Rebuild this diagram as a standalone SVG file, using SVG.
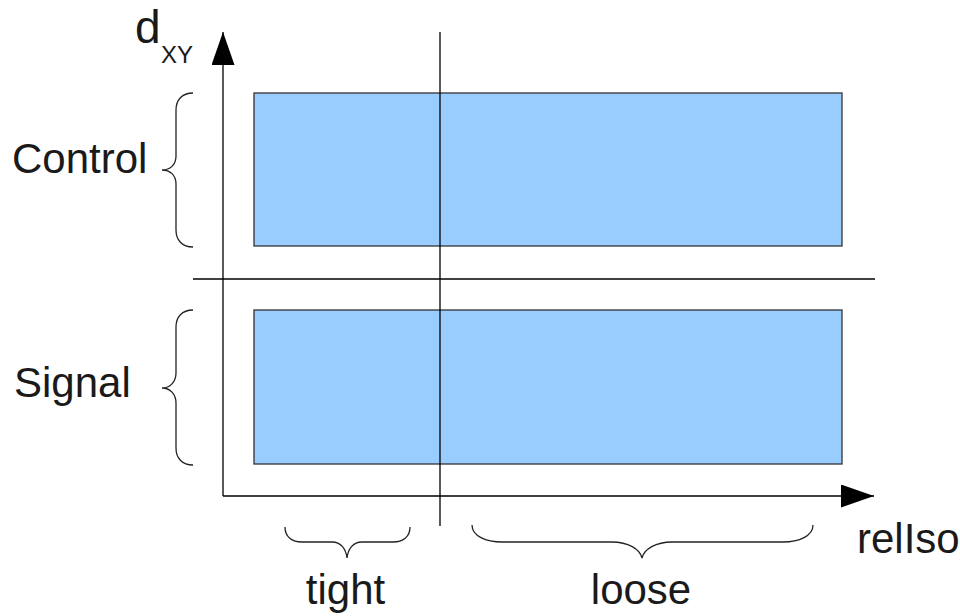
<svg xmlns="http://www.w3.org/2000/svg" width="960" height="616" viewBox="0 0 960 616">
<style>
text{font-family:"Liberation Sans",Arial,sans-serif;fill:#1a1a1a}
.lbl{font-size:42px}
.box{fill:#99ccff;stroke:#333;stroke-width:1.3}
.ln{stroke:#000;stroke-width:1.3;fill:none}
.br{stroke:#222;stroke-width:1.3;fill:none}
</style>
<defs>
<marker id="ah" markerWidth="34" markerHeight="24" refX="33" refY="11.5" orient="auto" markerUnits="userSpaceOnUse">
<path d="M0,0 L33,11.5 L0,23 Z" fill="#000"/>
</marker>
</defs>
<rect width="960" height="616" fill="#fff"/>
<g id="box-control"><rect class="box" x="254" y="93" width="588" height="153"/></g>
<g id="box-signal"><rect class="box" x="254" y="310" width="588" height="154"/></g>
<g id="connectors">
<line class="ln" x1="223" y1="496" x2="223" y2="32" marker-end="url(#ah)"/>
<line class="ln" x1="223" y1="496" x2="874" y2="496" marker-end="url(#ah)"/>
<line class="ln" x1="440" y1="32" x2="440" y2="526"/>
<line class="ln" x1="193" y1="279" x2="875" y2="279"/>
</g>
<g id="brace-control"><path class="br" d="M193,93 C182,93 176,100 176,110 L176,156 C176,165 170,170 162,170 C170,170 176,175 176,184 L176,230 C176,240 182,247 193,247"/></g>
<g id="brace-signal"><path class="br" d="M193,310 C182,310 176,317 176,327 L176,373 C176,382 170,388 162,388 C170,388 176,394 176,403 L176,448 C176,458 182,465 193,465"/></g>
<g id="brace-tight"><path class="br" d="M285,527 C285,537 292,542 302,542 L332,542 C341,542 346,549 347,558 C348,549 353,542 362,542 L393,542 C403,542 410,537 410,527"/></g>
<g id="brace-loose"><path class="br" d="M472,525 C472,536 486,542 502,542 L612,542 C628,542 640,549 642,558 C644,549 656,542 672,542 L783,542 C799,542 813,536 813,525"/></g>
<g id="label-dxy"><text x="135" y="43" font-size="46">d</text><text x="161" y="63" font-size="24">XY</text></g>
<g id="label-control"><text class="lbl" x="12" y="173">Control</text></g>
<g id="label-signal"><text class="lbl" x="14" y="397">Signal</text></g>
<g id="label-tight"><text class="lbl" x="345.5" y="604" text-anchor="middle">tight</text></g>
<g id="label-loose"><text class="lbl" x="641" y="604" text-anchor="middle">loose</text></g>
<g id="label-reliso"><text class="lbl" x="857" y="553">relIso</text></g>
</svg>
